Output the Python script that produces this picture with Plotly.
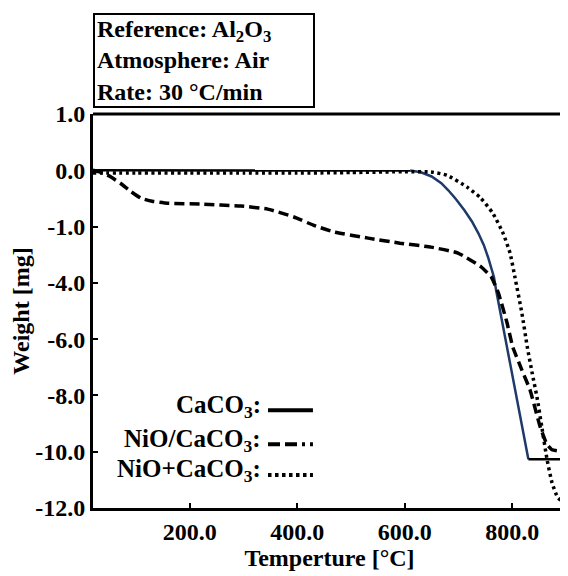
import plotly.graph_objects as go

# ---------------- data ----------------
caco3_T = [20, 100, 200, 300, 400, 500, 580, 610, 630, 650, 668, 681, 695, 711, 725, 737, 747, 755, 766, 770, 800, 830, 900]
caco3_W = [0, 0, 0, 0, 0, 0, 0, -0.01, -0.07, -0.22, -0.46, -0.71, -1.02, -1.42, -1.82, -2.24, -2.65, -3.09, -3.8, -4.26, -7.25, -10.27, -10.27]

nio_sup_T = [20, 34, 50, 71, 90, 109, 130, 159, 220, 295, 345, 394, 430, 468, 532, 591, 649, 699, 742, 761, 774, 790, 801, 818, 833, 852, 864, 874, 886, 900]
nio_sup_W = [0, -0.07, -0.2, -0.46, -0.75, -0.99, -1.1, -1.17, -1.2, -1.27, -1.38, -1.66, -1.95, -2.19, -2.41, -2.59, -2.73, -2.94, -3.43, -3.79, -4.35, -5.4, -6.28, -7.1, -7.8, -9.12, -9.72, -9.93, -9.97, -9.97]

nio_mix_T = [20, 100, 200, 300, 400, 500, 600, 649, 679, 716, 740, 764, 783, 796, 805, 818, 828, 837, 846, 855, 865, 874, 885, 898, 900]
nio_mix_W = [-0.1, -0.1, -0.1, -0.1, -0.1, -0.08, -0.05, -0.06, -0.18, -0.6, -0.96, -1.53, -2.24, -2.95, -3.8, -5.08, -6.28, -7.2, -8.06, -9.12, -10.3, -11.1, -11.64, -11.8, -11.8]

x_tick_vals = [200, 400, 600, 800]
y_tick_vals = [2, 0, -2, -4, -6, -8, -10, -12]
y_tick_text = ["1.0", "0.0", "-1.0", "-4.0", "-6.0", "-8.0", "-10.0", "-12.0"]

legend_labels = ["CaCO<sub>3</sub>:", "NiO/CaCO<sub>3</sub>:", "NiO+CaCO<sub>3</sub>:"]
info_lines = ["Reference: Al<sub>2</sub>O<sub>3</sub>", "Atmosphere: Air", "Rate: 30 \u00b0C/min"]

FONT = "Liberation Serif"
NAVY = "#1f3a68"

fig = go.Figure()

# CaCO3: black flat parts, navy decomposition part
i_start = 7    # first index of decomposition
i_end = 21     # index where it levels off
fig.add_trace(go.Scatter(x=caco3_T[:i_start + 1], y=caco3_W[:i_start + 1], mode="lines",
                         line=dict(color="black", width=2.5), showlegend=False))
fig.add_trace(go.Scatter(x=caco3_T[i_start:i_end + 1], y=caco3_W[i_start:i_end + 1], mode="lines",
                         line=dict(color=NAVY, width=2.5, shape="linear"), showlegend=False))
fig.add_trace(go.Scatter(x=caco3_T[i_end:], y=caco3_W[i_end:], mode="lines",
                         line=dict(color="black", width=2.5), showlegend=False))

fig.add_trace(go.Scatter(x=nio_sup_T, y=nio_sup_W, mode="lines",
                         line=dict(color="black", width=3.5, dash="10px,5px", shape="spline", smoothing=0.4),
                         showlegend=False))
fig.add_trace(go.Scatter(x=nio_mix_T, y=nio_mix_W, mode="lines",
                         line=dict(color="black", width=3.5, dash="3px,3.5px", shape="spline", smoothing=0.5),
                         showlegend=False))

# ---------------- frame ----------------
shapes = [
    dict(type="line", xref="paper", yref="paper", x0=0, x1=1, y0=1, y1=1,
         line=dict(color="black", width=3)),
    dict(type="line", xref="paper", yref="paper", x0=1, x1=1, y0=0, y1=1,
         line=dict(color="black", width=1.5)),
]

# ---------------- legend (text + line samples) ----------------
leg_y = [0.258, 0.172, 0.094]
leg_dash = ["solid", "12px,5px,12px,5px,3px,5px", "3.5px,3.5px"]
annotations = []
for lab, yy, d in zip(legend_labels, leg_y, leg_dash):
    annotations.append(dict(xref="paper", yref="paper", x=0.36, y=yy, xanchor="right", yanchor="middle",
                            text=lab, showarrow=False,
                            font=dict(family=FONT, size=25, color="black", weight="bold")))
    shapes.append(dict(type="line", xref="paper", yref="paper", x0=0.370, x1=0.465, y0=yy - 0.01, y1=yy - 0.01,
                       line=dict(color="black", width=4, dash=d)))

# ---------------- info box ----------------
annotations.append(dict(xref="paper", yref="paper", x=0, y=1, xanchor="left", yanchor="bottom", yshift=6,
                        text="<br>".join(info_lines), showarrow=False, align="left",
                        width=214, height=87, borderpad=2, bordercolor="black", borderwidth=2,
                        bgcolor="white",
                        font=dict(family=FONT, size=24, color="black", weight="bold")))

fig.update_layout(
    width=560, height=568,
    margin=dict(l=85, r=2, t=106, b=68),
    paper_bgcolor="white", plot_bgcolor="white",
    shapes=shapes, annotations=annotations,
    font=dict(family=FONT, size=23, color="black", weight="bold"),
)

fig.update_xaxes(range=[20, 900], tickvals=x_tick_vals, tickformat=".1f", automargin=False,
                 ticks="inside", ticklen=5, tickwidth=2, tickcolor="black",
                 showline=True, linecolor="black", linewidth=3, showgrid=False, zeroline=False,
                 tickfont=dict(family=FONT, size=24, color="black", weight="bold"),
                 title=dict(text="Temperture [\u00b0C]", standoff=4,
                            font=dict(family=FONT, size=24, color="black", weight="bold")))
fig.update_yaxes(range=[-12, 2], tickvals=y_tick_vals, ticktext=y_tick_text, automargin=False,
                 ticks="inside", ticklen=5, tickwidth=2, tickcolor="black",
                 showline=True, linecolor="black", linewidth=3, showgrid=False, zeroline=False,
                 tickfont=dict(family=FONT, size=24, color="black", weight="bold"),
                 title=dict(text="Weight [mg]", standoff=0,
                            font=dict(family=FONT, size=24, color="black", weight="bold")))

fig.write_html("out.html")
